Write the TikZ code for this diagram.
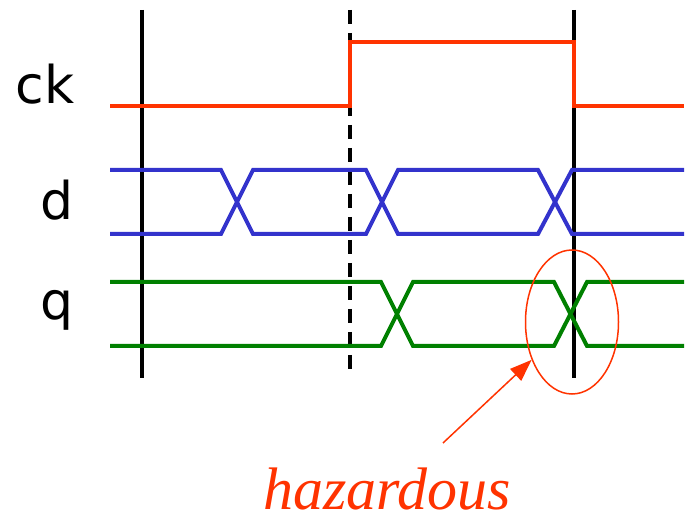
\documentclass[tikz,border=0pt]{standalone}
\usepackage{fontspec}
\setmainfont{Liberation Serif}
\newfontfamily\handfont{DejaVu Sans}
\usepackage{xcolor}
\usetikzlibrary{arrows.meta, shapes.geometric}

\definecolor{ckred}{RGB}{255,51,0}
\definecolor{dblue}{RGB}{51,51,204}
\definecolor{qgreen}{RGB}{0,128,0}

\tikzset{
  sigline/.style={line width=4pt},
  edgeline/.style={line width=3.5pt, black},
  siglabel/.style={font=\handfont\fontsize{52}{52}\selectfont, inner sep=0pt}
}

\begin{document}
\begin{tikzpicture}[x=1pt, y=-1pt]
  \useasboundingbox (0,0) rectangle (686,521);

  % clock edges
  \draw[edgeline] (142,10) -- (142,378);
  \draw[edgeline, dash pattern=on 14pt off 9pt] (350,10) -- (350,378);
  \draw[edgeline] (574,10) -- (574,378);

  % signal names
  \node[siglabel, anchor=base] (ck) at (45,104) {ck};
  \node[siglabel, anchor=base] (d) at (57,220) {d};
  \node[siglabel, anchor=base] (q) at (57,320) {q};

  % ck
  \draw[sigline, ckred] (110,106) -- (350,106) -- (350,42) -- (574,42) -- (574,106) -- (684,106);

  % d, crossing at each change
  \foreach \ya/\yb in {170/234, 234/170} {
    \draw[sigline, dblue] (110,\ya) -- (221,\ya) -- (253,\yb) -- (366,\yb)
      -- (398,\ya) -- (538,\ya) -- (572,\yb) -- (684,\yb);
  }

  % q
  \foreach \ya/\yb in {282/346, 346/282} {
    \draw[sigline, qgreen] (110,\ya) -- (381,\ya) -- (413,\yb) -- (554,\yb)
      -- (587,\ya) -- (684,\ya);
  }

  % hazard marker
  \node[draw=ckred, line width=1.5pt, ellipse, minimum width=93pt,
        minimum height=144pt, inner sep=0pt] (haz) at (572,322) {};
  \node[ckred, font=\itshape\fontsize{60}{60}\selectfont, anchor=base,
        inner sep=0pt, text depth=0pt] (hazlabel)
    at (387,509) {hazardous};
  \coordinate (tail) at (443,443);
  \draw[ckred, line width=1.5pt, -{Triangle[length=22pt, width=16pt]}] (tail) -- (haz);
\end{tikzpicture}
\end{document}
